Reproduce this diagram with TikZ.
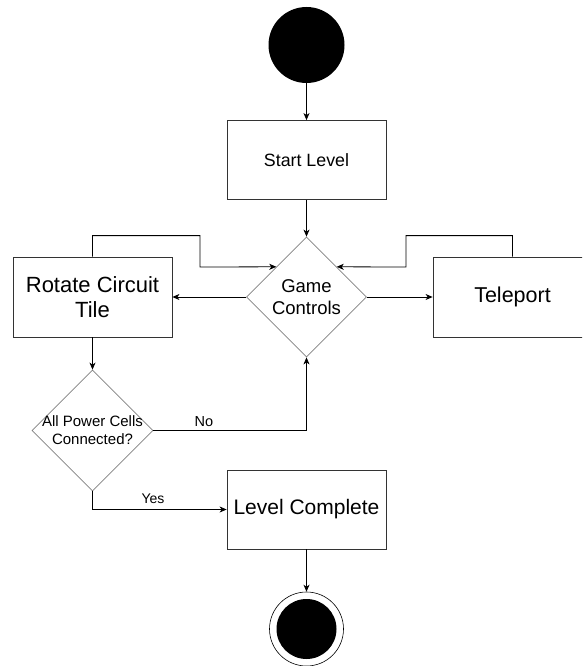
\documentclass[tikz,border=0pt]{standalone}
\usepackage{fontspec}
\setmainfont{Liberation Sans}
\usetikzlibrary{shapes.geometric,arrows.meta,calc}
\tikzset{
	boite/.style={draw=black!80,line width=0.8pt,minimum width=159pt,minimum height=80pt,inner sep=0pt,align=center},
	losange/.style={diamond,draw=black!50,line width=0.8pt,inner sep=0pt},
	fleche/.style={-{Stealth[length=7pt,width=6pt,inset=2pt]},line width=0.8pt},
}
\begin{document}
\begin{tikzpicture}[x=1pt,y=-1pt]
		\useasboundingbox (0,0) rectangle (582,666);
		\clip (0,0) rectangle (582,666);
		\node[circle,fill=black,minimum size=76pt,inner sep=0pt] (debut) at (306.5,45) {};
		\node[boite,minimum height=79pt,font=\fontsize{17.8}{21}\selectfont] (start) at (306.5,160) {Start Level};
		\node[losange,minimum width=120pt,minimum height=120pt] (jeu) at (306.5,297) {};
		\node[align=center,font=\fontsize{18.5}{22}\selectfont] (jeutxt) at (jeu) {Game\\Controls};
		\node[boite,font=\fontsize{22}{25}\selectfont] (rot) at (92.5,297) {Rotate Circuit\\Tile};
		\node[boite,font=\fontsize{21.5}{24}\selectfont] (tele) at (512.5,297) {Teleport};
		\node[losange,minimum width=121pt,minimum height=121pt] (test) at (92.5,430.5) {};
		\node[align=center,font=\fontsize{15}{18}\selectfont] (testtxt) at (test) {All Power Cells\\Connected?};
		\node[boite,minimum height=79pt,font=\fontsize{21}{24}\selectfont] (fini) at (306.5,509.5) {Level Complete};
		\node[circle,draw,line width=0.6pt,minimum size=74pt,inner sep=0pt] (fin) at (306.5,629) {};
		\node[circle,fill=black,minimum size=60pt,inner sep=0pt] (fincoeur) at (fin) {};
		\coordinate (coinG) at ($(jeu.north)!0.5!(jeu.west)$);
		\coordinate (coinD) at ($(jeu.north)!0.5!(jeu.east)$);
		\draw[fleche] (debut) -- (start);
		\draw[fleche] (start) -- (jeu);
		\draw[fleche] (jeu.west) -- (rot.east);
		\draw[fleche] (jeu.east) -- (tele.west);
		%boucles
		\draw[fleche] (rot.north) -- ++(0,-21) -| (200,267) -- (coinG);
		\draw[fleche] (tele.north) -- ++(0,-21) -| (406,267) -- (coinD);
		\draw[fleche] (rot.south) -- (test.north);
		\draw[fleche] (test.east) -| (jeu.south);
		\draw[fleche] (test.south) |- (fini.west);
		\draw[fleche] (fini) -- (fin);
		%décorations
		\node[anchor=base,font=\fontsize{14.5}{16}\selectfont] (non) at (204,426) {No};
		\node[anchor=base,font=\fontsize{14}{16}\selectfont] (oui) at (153,503) {Yes};
	\end{tikzpicture}
\end{document}
